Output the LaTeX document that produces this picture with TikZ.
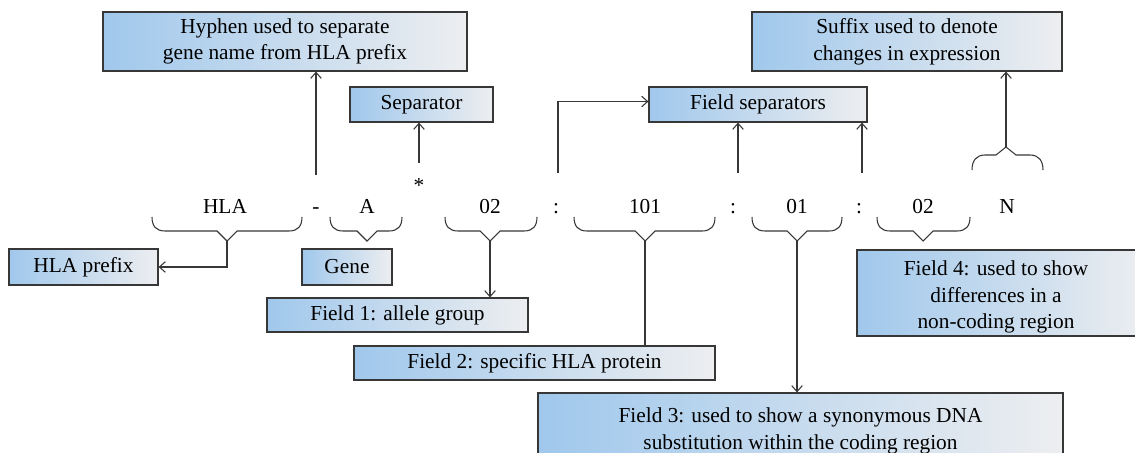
\documentclass[tikz,border=0pt]{standalone}
\usepackage{fontspec}
\setmainfont{Liberation Serif}
\usetikzlibrary{arrows.meta,calc}
\definecolor{bl}{RGB}{160,200,236}
\definecolor{gr}{RGB}{237,238,240}
\definecolor{bd}{RGB}{55,55,55}
\newcommand\myfs{\fontsize{16pt}{20pt}\selectfont}
\newcommand\ubrace[3]{%
  \draw[ln] (#1,217) .. controls (#1,226) and (#1+4,231) .. (#1+13,231) -- (#3-10,231) -- (#3,241) -- (#3+10,231) -- (#2-13,231) .. controls (#2-4,231) and (#2,226) .. (#2,217);}
\begin{document}
\begin{tikzpicture}[x=0.75pt,y=-0.75pt,
  ln/.style={draw=bd,line width=0.8pt},
  arr/.style={ln,-{Straight Barb[length=4.5pt,width=8pt]}},
  box/.style={draw=bd,line width=0.9pt,left color=bl,right color=gr,inner sep=0pt,align=center,font=\myfs},
  bx/.style 2 args={minimum width=#1*0.75pt,minimum height=#2*0.75pt},
  tx/.style={font=\myfs,anchor=base,inner sep=0pt}]
\useasboundingbox (0,0) rectangle (1135,453);
% boxes
\node[box,bx={364}{59}] (hyph) at (285,41.5) {Hyphen used to separate\\gene name from HLA prefix};
\node[box,bx={143}{35}] (sep) at (421.5,104.5) {Separator};
\node[box,bx={218}{35}] (fsep) at (758,104.5) {Field separators};
\node[box,bx={310}{59}] (suf) at (907,41.5) {Suffix used to denote\\changes in expression};
\node[box,bx={149}{36}] (pre) at (83.5,267) {HLA prefix};
\node[box,bx={90}{36}] (gene) at (347,267) {Gene};
\node[box,bx={261}{34}] (f1) at (397.5,315) {Field 1: allele group};
\node[box,bx={361}{34}] (f2) at (534.5,363) {Field 2: specific HLA protein};
\node[box,bx={525}{76}] (f3) at (800.5,431) {Field 3: used to show a synonymous DNA\\substitution within the coding region};
\node[box,bx={290}{86}] (f4) at (1002,293) {};
\node[font=\myfs,align=center,inner sep=0pt] (f4t) at (996,297) {Field 4: used to show\\differences in a\\non-coding region};
% allele name
\node[tx] (hla) at (225,213) {HLA};
\node[tx] (dash) at (316,213) {-};
\node[tx] (a) at (367,213) {A};
\node[font=\myfs,inner sep=0pt] (star) at (419,186) {*};
\node[tx] (fa) at (490,213) {02};
\node[tx] (c1) at (556,213) {:};
\node[tx] (fb) at (645,213) {101};
\node[tx] (c2) at (733,213) {:};
\node[tx] (fc) at (797,213) {01};
\node[tx] (c3) at (859,213) {:};
\node[tx] (fd) at (923,213) {02};
\node[tx] (n) at (1007,213) {N};
% braces
\ubrace{152}{302}{227}
\ubrace{330}{402}{367}
\ubrace{445}{537}{490}
\ubrace{574}{715}{645}
\ubrace{752}{842}{797}
\ubrace{877}{970}{923}
\draw[ln] (972,170) .. controls (972,161) and (976,155) .. (985,155) -- (996,155) -- (1006,147) -- (1016,155) -- (1030,155) .. controls (1039,155) and (1043,161) .. (1043,170);
% coordinates
\coordinate (tHLA) at (227,241);
\coordinate (tfa) at (490,241);
\coordinate (tfb) at (645,241);
\coordinate (tfc) at (797,241);
\coordinate (tN) at (1006,147);
\coordinate (sd) at (316,175);
\coordinate (ss) at (419,163);
\coordinate (s1) at (558,173);
\coordinate (s2) at (738,173);
\coordinate (s3) at (862,173);
% connectors
\draw[arr] (tHLA) |- (pre.east);
\draw[arr] (tfa) -- (tfa |- f1.north);
\draw[ln] (tfb) -- (tfb |- f2.north);
\draw[arr] (tfc) -- (tfc |- f3.north);
\draw[arr] (tN) -- (tN |- suf.south);
\draw[arr] (sd) -- (sd |- hyph.south);
\draw[arr] (ss) -- (ss |- sep.south);
\draw[arr] (s1) |- ([yshift=2.25pt]fsep.west);
\draw[arr] (s2) -- (s2 |- fsep.south);
\draw[arr] (s3) -- (s3 |- fsep.south);
\end{tikzpicture}
\end{document}
